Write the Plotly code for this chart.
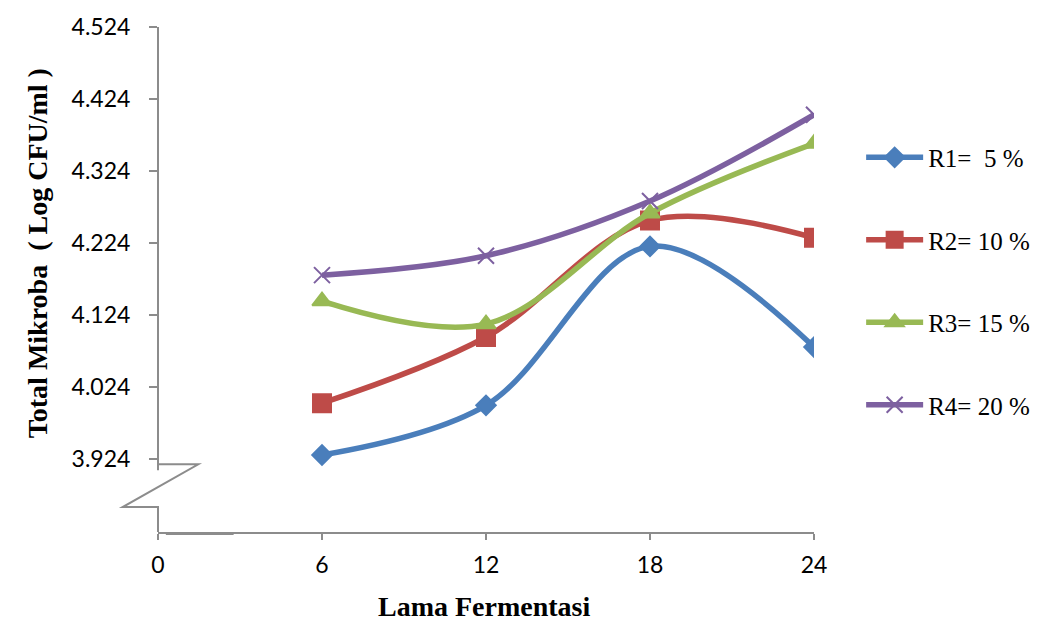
import plotly.graph_objects as go

# ---- data ----
hours = [6, 12, 18, 24]
x_ticks = [0, 6, 12, 18, 24]
y_ticks = [3.924, 4.024, 4.124, 4.224, 4.324, 4.424, 4.524]
r1 = [3.929, 3.998, 4.219, 4.079]
r2 = [4.001, 4.093, 4.255, 4.231]
r3 = [4.143, 4.111, 4.265, 4.362]
r4 = [4.179, 4.206, 4.282, 4.402]
names = ["R1=\u00a0 5 %", "R2= 10 %", "R3= 15 %", "R4= 20 %"]

colors = ["#4A7EBB", "#BE4B48", "#98B954", "#7D60A0"]
symbols = ["diamond", "square", "triangle-up", "x-thin"]
sizes = [15, 18, 17, 16]

# ---- layout geometry (page pixels) ----
W, H = 1047, 621
L, R, T, B = 158, 826, 25, 532          # plot area
pw, ph = R - L, B - T


def xp(px):
    return (px - L) / pw


def yp(py):
    return (B - py) / ph


fig = go.Figure()
for i, ys in enumerate([r1, r2, r3, r4]):
    fig.add_trace(go.Scatter(
        x=hours, y=ys, name=names[i], mode="lines+markers",
        legendgroup="g%d" % i,
        line=dict(color=colors[i], width=5.5, shape="spline", smoothing=1),
        marker=dict(symbol=symbols[i], size=sizes[i], color=colors[i],
                    line=dict(color=colors[i], width=2)),
    ))

axis_col = "#8C8C8C"
fig.update_layout(
    width=W, height=H,
    margin=dict(l=L, r=W - R, t=T, b=H - B),
    paper_bgcolor="white", plot_bgcolor="white",
    showlegend=True,
    legend=dict(
        x=xp(874), y=yp(133), xanchor="left", yanchor="top",
        font=dict(family="Liberation Serif", size=25, color="black"),
        itemwidth=57, tracegroupgap=47, bgcolor="rgba(0,0,0,0)",
    ),
    xaxis=dict(
        range=[0, 24], tickvals=x_ticks, ticktext=[str(v) for v in x_ticks],
        showline=True, linecolor=axis_col, linewidth=2,
        ticks="outside", ticklen=6, tickcolor=axis_col, tickwidth=2,
        showgrid=False, zeroline=False,
        tickfont=dict(family="Lato", size=23, color="black"),
        ticklabelstandoff=5,
    ),
    yaxis=dict(
        range=[3.8219, 4.524], tickvals=y_ticks,
        ticktext=["%.3f" % v for v in y_ticks],
        showline=False, ticks="outside", ticklen=8, tickcolor=axis_col, tickwidth=2,
        showgrid=False, zeroline=False,
        tickfont=dict(family="Lato", size=23, color="black"),
        ticklabelstandoff=14,
    ),
)

# y-axis line (upper part) and axis break
line_style = dict(color=axis_col, width=2)
fig.add_shape(type="line", xref="paper", yref="paper",
              x0=0, x1=0, y0=yp(470), y1=1, line=line_style)
brk = "M 0,{a} L {b},{a} L {c},{d} L 0,{d} L 0,0".format(
    a=yp(464), b=xp(199), c=xp(122), d=yp(507))
fig.add_shape(type="path", xref="paper", yref="paper", path=brk,
              line=line_style)
fig.add_shape(type="line", xref="paper", yref="paper",
              x0=xp(166), x1=xp(235), y0=yp(534), y1=yp(534),
              line=dict(color=axis_col, width=2))

# axis titles
fig.add_annotation(text="<b>Lama Fermentasi</b>", xref="paper", yref="paper",
                   x=xp(490), y=yp(607), xanchor="center", yanchor="middle",
                   showarrow=False,
                   font=dict(family="Liberation Serif", size=28, color="black"))
fig.add_annotation(text="<b>Total Mikroba\u00a0 ( Log CFU/ml )</b>",
                   xref="paper", yref="paper", x=xp(35), y=yp(252),
                   xanchor="center", yanchor="middle",
                   textangle=-90, showarrow=False,
                   font=dict(family="Liberation Serif", size=28, color="black"))

fig.write_html(
    "out.html",
    config={"displayModeBar": False},
    post_script="document.body.style.margin='0';"
                "document.body.style.overflow='hidden';",
)
